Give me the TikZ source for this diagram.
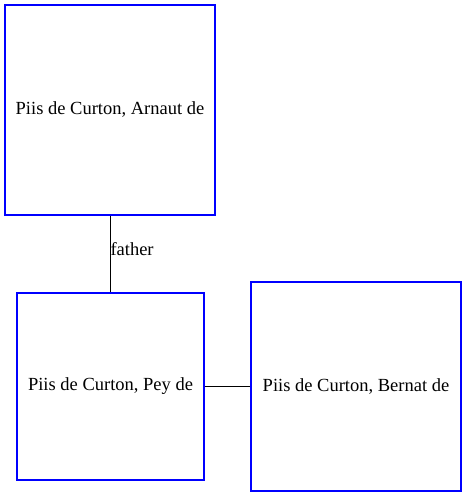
\documentclass[tikz,border=0pt]{standalone}
\usepackage{fontspec}
\setmainfont{Liberation Serif}
\usepackage{tikz}

\tikzset{person/.style={draw=blue,line width=1.1pt,inner sep=0pt,font=\fontsize{18.5}{22}\selectfont}}

\begin{document}
\begin{tikzpicture}[x=1pt,y=-1pt]
    \useasboundingbox (0,0) rectangle (466,497);

    % Arnaut
    \node[person,minimum width=210pt,minimum height=210pt] (arnaut) at (110,110) {Piis de Curton, Arnaut de};

    % Pey
    \node[person,minimum width=187pt,minimum height=187pt] (pey) at (110.5,386.5) {Piis de Curton, Pey de};

    % Bernat
    \node[person,minimum width=210pt,minimum height=209pt] (bernat) at (356,386.5) {Piis de Curton, Bernat de};

    \draw[line width=1pt] (arnaut.south) to node[right,inner sep=0pt,yshift=5pt,font=\fontsize{18.5}{22}\selectfont] {father} (arnaut.south |- pey.north);
    \draw[line width=1pt] (pey.east) to (pey.east -| bernat.west);
  \end{tikzpicture}
\end{document}
